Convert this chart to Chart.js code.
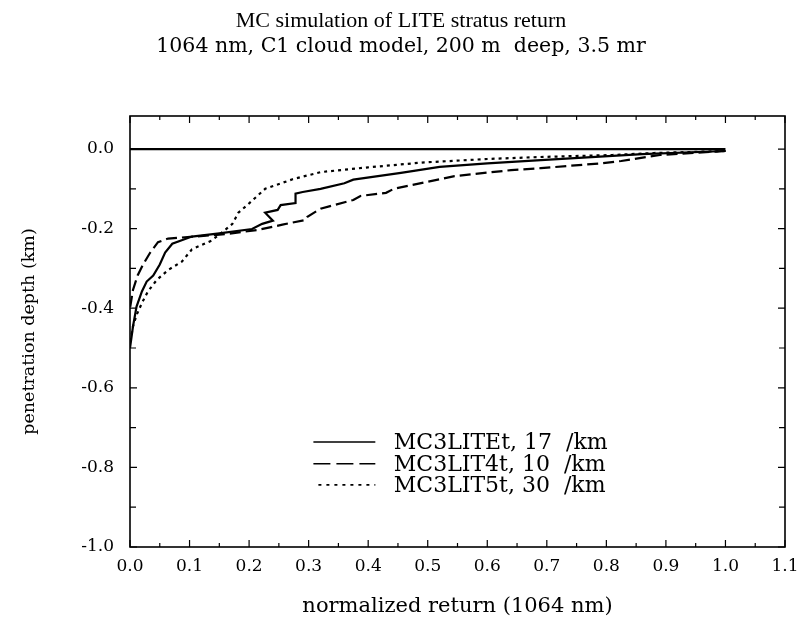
<!DOCTYPE html>
<html>
<head>
<meta charset="utf-8">
<script src="https://cdn.jsdelivr.net/npm/chart.js@4.4.1/dist/chart.umd.min.js"></script>
<style>
  html, body { margin: 0; padding: 0; background: #fff; }
  #wrap { width: 802px; height: 623px; }
</style>
</head>
<body>
<div id="wrap"><canvas id="grafico"></canvas></div>
<script>
const FONTE_TITULO = '"Liberation Serif", "DejaVu Serif", serif';
const FONTE = '"DejaVu Serif", "Liberation Serif", serif';

// ticks rotulados
const xTicks = [0.0, 0.1, 0.2, 0.3, 0.4, 0.5, 0.6, 0.7, 0.8, 0.9, 1.0, 1.1];
const yTicks = [-1.0, -0.8, -0.6, -0.4, -0.2, 0.0];

const nomes = ['MC3LITEt, 17  /km', 'MC3LIT4t, 10  /km', 'MC3LIT5t, 30  /km'];

// MC3LITEt, 17 /km (linha cheia)
const retorno17 = [1.00, 0.86, 0.69, 0.60, 0.52, 0.455, 0.375, 0.36, 0.32, 0.29, 0.278, 0.278, 0.253, 0.248, 0.227, 0.240, 0.222, 0.205, 0.150, 0.104, 0.071, 0.059, 0.050, 0.039, 0.028, 0.020, 0.011, 0.005, 0.0];
const prof17    = [-0.005, -0.013, -0.028, -0.036, -0.045, -0.060, -0.077, -0.086, -0.100, -0.108, -0.112, -0.136, -0.141, -0.153, -0.160, -0.180, -0.188, -0.201, -0.212, -0.220, -0.238, -0.260, -0.290, -0.318, -0.333, -0.358, -0.396, -0.446, -0.500];

// MC3LIT4t, 10 /km (tracejada)
const retorno10 = [1.00, 0.89, 0.825, 0.79, 0.69, 0.64, 0.545, 0.443, 0.430, 0.387, 0.375, 0.320, 0.298, 0.295, 0.256, 0.216, 0.160, 0.064, 0.047, 0.034, 0.022, 0.013, 0.005, 0.0];
const prof10    = [-0.005, -0.015, -0.030, -0.036, -0.048, -0.053, -0.068, -0.100, -0.110, -0.118, -0.128, -0.150, -0.170, -0.178, -0.190, -0.203, -0.214, -0.225, -0.234, -0.260, -0.290, -0.317, -0.354, -0.400];

// MC3LIT5t, 30 /km (pontilhada)
const retorno30 = [1.00, 0.88, 0.81, 0.69, 0.60, 0.49, 0.40, 0.32, 0.273, 0.227, 0.199, 0.182, 0.172, 0.160, 0.137, 0.104, 0.087, 0.064, 0.045, 0.030, 0.020, 0.011, 0.005, 0.0];
const prof30    = [-0.005, -0.010, -0.015, -0.020, -0.025, -0.034, -0.046, -0.058, -0.076, -0.100, -0.138, -0.160, -0.188, -0.203, -0.230, -0.252, -0.283, -0.304, -0.329, -0.358, -0.387, -0.417, -0.446, -0.490];

// linha de superfície (profundidade zero)
const retornoTopo = [0.0, 1.0];
const profTopo = [0.0, 0.0];

function pares(xs, ys) {
  return xs.map((x, i) => ({ x: x, y: ys[i] }));
}

// moldura com ticks para dentro nos quatro lados
const moldura = {
  id: 'moldura',
  afterDraw(chart) {
    const { ctx, chartArea: a, scales } = chart;
    const sx = scales.x, sy = scales.y;
    ctx.save();
    ctx.strokeStyle = '#000';
    ctx.lineWidth = 1.6;
    ctx.strokeRect(a.left, a.top, a.right - a.left, a.bottom - a.top);
    ctx.lineWidth = 1.2;
    ctx.beginPath();
    for (let i = 0; i < xTicks.length; i++) {
      const px = sx.getPixelForValue(xTicks[i]);
      ctx.moveTo(px, a.bottom); ctx.lineTo(px, a.bottom - 7);
      ctx.moveTo(px, a.top); ctx.lineTo(px, a.top + 7);
      if (i < xTicks.length - 1) {
        const pm = sx.getPixelForValue((xTicks[i] + xTicks[i + 1]) / 2);
        ctx.moveTo(pm, a.bottom); ctx.lineTo(pm, a.bottom - 4);
        ctx.moveTo(pm, a.top); ctx.lineTo(pm, a.top + 4);
      }
    }
    for (let i = 0; i < yTicks.length; i++) {
      const py = sy.getPixelForValue(yTicks[i]);
      ctx.moveTo(a.left, py); ctx.lineTo(a.left + 7, py);
      ctx.moveTo(a.right, py); ctx.lineTo(a.right - 7, py);
      if (i < yTicks.length - 1) {
        const pm = sy.getPixelForValue((yTicks[i] + yTicks[i + 1]) / 2);
        ctx.moveTo(a.left, pm); ctx.lineTo(a.left + 6, pm);
        ctx.moveTo(a.right, pm); ctx.lineTo(a.right - 6, pm);
      }
    }
    ctx.stroke();
    ctx.restore();
  }
};

// legenda dentro da área do gráfico
const legendaInterna = {
  id: 'legendaInterna',
  afterDraw(chart) {
    const { ctx, scales } = chart;
    const sx = scales.x, sy = scales.y;
    const x0 = sx.getPixelForValue(0.308);
    const x1 = sx.getPixelForValue(0.412);
    const xt = sx.getPixelForValue(0.443);
    const linhas = [-0.736, -0.791, -0.844];
    const tracos = [[], [17, 6], [3, 5]];
    ctx.save();
    ctx.font = '22px ' + FONTE;
    ctx.fillStyle = '#000';
    ctx.textBaseline = 'middle';
    for (let i = 0; i < nomes.length; i++) {
      const ds = chart.data.datasets[i];
      const py = sy.getPixelForValue(linhas[i]);
      ctx.strokeStyle = '#000';
      ctx.lineWidth = 1.6;
      ctx.setLineDash(tracos[i]);
      ctx.beginPath();
      ctx.moveTo(i === 2 ? x0 + 5 : x0, py); ctx.lineTo(x1, py);
      ctx.stroke();
      ctx.setLineDash([]);
      ctx.fillText(ds.label, xt, py + 1);
    }
    ctx.restore();
  }
};

const ctx = document.getElementById('grafico').getContext('2d');
new Chart(ctx, {
  type: 'scatter',
  data: {
    datasets: [
      { label: nomes[0], data: pares(retorno17, prof17), borderDash: [] },
      { label: nomes[1], data: pares(retorno10, prof10), borderDash: [11, 5] },
      { label: nomes[2], data: pares(retorno30, prof30), borderDash: [3, 4] },
      { label: '', data: pares(retornoTopo, profTopo), borderDash: [] }
    ].map(d => Object.assign(d, {
      showLine: true,
      borderColor: '#000',
      backgroundColor: '#000',
      borderWidth: 2.2,
      pointRadius: 0,
      tension: 0
    }))
  },
  options: {
    responsive: true,
    maintainAspectRatio: false,
    animation: false,
    layout: { padding: { left: 17, right: 17, top: 0, bottom: 0 } },
    plugins: {
      legend: { display: false },
      tooltip: { enabled: false },
      title: {
        display: true,
        text: 'MC simulation of LITE stratus return',
        color: '#000',
        font: { family: FONTE_TITULO, size: 22, weight: 'normal' },
        padding: { top: 8, bottom: 0 }
      },
      subtitle: {
        display: true,
        text: '1064 nm, C1 cloud model, 200 m  deep, 3.5 mr',
        color: '#000',
        font: { family: FONTE, size: 20.5, weight: 'normal' },
        padding: { top: 0, bottom: 57 }
      }
    },
    scales: {
      x: {
        type: 'linear',
        min: 0,
        max: 1.1,
        afterBuildTicks: s => { s.ticks = xTicks.map(v => ({ value: v })); },
        afterFit: s => { s.height = 76; },
        grid: { display: false, drawTicks: true, tickLength: 9 },
        border: { display: false },
        ticks: {
          color: '#000',
          padding: 0,
          maxRotation: 0,
          font: { family: FONTE, size: 17 },
          callback: v => v.toFixed(1)
        },
        title: {
          display: true,
          text: 'normalized return (1064 nm)',
          color: '#000',
          font: { family: FONTE, size: 21 },
          padding: { top: 0, bottom: 4 }
        }
      },
      y: {
        type: 'linear',
        min: -1.0,
        max: 0.083,
        afterBuildTicks: s => { s.ticks = yTicks.map(v => ({ value: v })); },
        afterFit: s => { s.width = 113; },
        grid: { display: false, drawTicks: false },
        border: { display: false },
        ticks: {
          color: '#000',
          padding: 16,
          font: { family: FONTE, size: 17 },
          callback: v => v.toFixed(1)
        },
        title: {
          display: true,
          text: 'penetration depth (km)',
          color: '#000',
          font: { family: FONTE, size: 17.5 },
          padding: { top: 2, bottom: 0 }
        }
      }
    }
  },
  plugins: [moldura, legendaInterna]
});
</script>
</body>
</html>
